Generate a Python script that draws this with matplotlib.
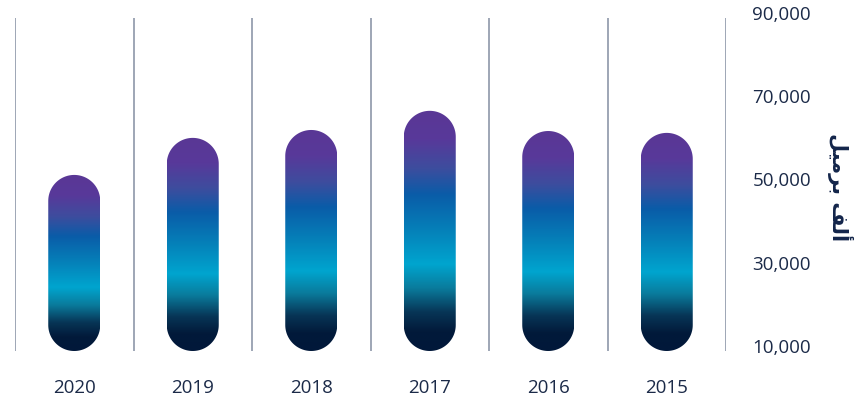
import matplotlib
matplotlib.use("Agg")
import matplotlib.pyplot as plt
import numpy as np
from matplotlib.colors import LinearSegmentedColormap
from matplotlib.patches import Polygon
from matplotlib.transforms import ScaledTranslation

years = ["2020", "2019", "2018", "2017", "2016", "2015"]
values = [52300, 61200, 63100, 67700, 62850, 62400]
ytick_vals = [10000, 30000, 50000, 70000, 90000]
ytick_labels = ["10,000", "30,000", "50,000", "70,000", "90,000"]
# "ألف برميل" in presentation forms, visual order
ylabel_text = "\uFEDE\uFEF4\uFEE3\uFEAE\uFE91 \uFED2\uFEDF\uFE83"

W, H, DPI = 855, 404, 100
fig = plt.figure(figsize=(W / DPI, H / DPI), dpi=DPI)
ax_l, ax_r, ax_t, ax_b = 15, 726, 18, 351
ax = fig.add_axes([ax_l / W, 1 - ax_b / H, (ax_r - ax_l) / W, (ax_b - ax_t) / H])

y0, y1 = 10000, 90000
ax.set_xlim(-0.5, len(years) - 0.5)
ax.set_ylim(y0, y1)

for s in ax.spines.values():
    s.set_visible(False)

line_col = "#848ea2"
for b in np.arange(-0.5, len(years), 1.0):
    ax.axvline(b, color=line_col, lw=1.1, zorder=1)

cmap = LinearSegmentedColormap.from_list("g", [
    (0.00, "#5a3795"),
    (0.12, "#58399a"),
    (0.24, "#3d4d9e"),
    (0.35, "#0a5ca8"),
    (0.50, "#0581b9"),
    (0.64, "#00a5cf"),
    (0.74, "#0a7b9c"),
    (0.84, "#073556"),
    (0.92, "#021a3a"),
    (1.00, "#01183a"),
])
grad = np.linspace(0, 1, 512).reshape(-1, 1)

px_per_x = (ax_r - ax_l) / len(years)
px_per_y = (ax_b - ax_t) / (y1 - y0)
bar_w = 52 / px_per_x
r_x = bar_w / 2
r_y = 26 / px_per_y

th = np.linspace(0, np.pi, 60)
for i, v in enumerate(values):
    x0 = i - bar_w / 2
    top_arc = np.column_stack([i + r_x * np.cos(th), v - r_y + r_y * np.sin(th)])
    bot_arc = np.column_stack([i - r_x * np.cos(th), y0 + r_y - r_y * np.sin(th)])
    verts = np.vstack([top_arc, bot_arc])
    patch = Polygon(verts, closed=True, facecolor="none", edgecolor="none",
                    transform=ax.transData)
    ax.add_patch(patch)
    im = ax.imshow(grad, cmap=cmap, aspect="auto", origin="upper",
                   extent=[x0, x0 + bar_w, y0, v], zorder=2, interpolation="bilinear")
    im.set_clip_path(patch)

ax.set_xlim(-0.5, len(years) - 0.5)
ax.set_ylim(y0, y1)

txt_col = "#1b2a48"
ax.set_xticks(range(len(years)))
ax.set_xticklabels(years, fontsize=13.5, color=txt_col, family="Open Sans")
ax.tick_params(axis="x", length=0, pad=20.5)
ax.yaxis.tick_right()
ax.set_yticks(ytick_vals)
ax.set_yticklabels(ytick_labels, fontsize=13.5, color=txt_col, family="Open Sans")
ax.tick_params(axis="y", length=0, pad=19)
off = ScaledTranslation(0, 5 / DPI, fig.dpi_scale_trans)
for lab in ax.get_yticklabels():
    lab.set_transform(lab.get_transform() + off)

fig.text(840 / W, 1 - 187 / H, ylabel_text, rotation=-90, ha="center", va="center",
         fontsize=15, fontweight="bold", color="#13254a", family="DejaVu Sans")

fig.savefig("out.png", dpi=DPI)
